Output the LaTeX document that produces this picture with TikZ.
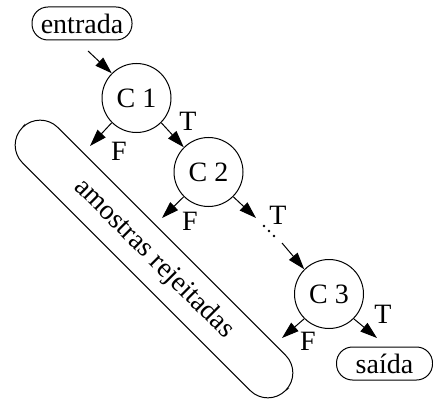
\documentclass[tikz,border=0pt]{standalone}
\usepackage{fontspec}
\setmainfont{Liberation Serif}
\usetikzlibrary{arrows.meta}
\begin{document}
\begin{tikzpicture}[x=1pt,y=-1pt,
  every node/.style={font=\fontsize{28}{33}\selectfont},
  cnode/.style={draw,circle,line width=1pt,minimum size=69pt,inner sep=0pt},
  term/.style={draw,line width=1pt,rounded corners=16pt,minimum height=33pt,inner sep=0pt},
  arr/.style={line width=1pt,-{Triangle[length=17pt,width=11pt]}},
  lab/.style={inner sep=0pt}]
\useasboundingbox (0,0) rectangle (433,406);
\node[term,minimum width=100pt] (in) at (82,23.5) {entrada};
\node[term,minimum width=96pt] (out) at (384.5,363.5) {saída};
\node[cnode] (c1) at (136.5,98) {C 1};
\node[cnode] (c2) at (208.5,172) {C 2};
\node[cnode] (c3) at (329,294) {C 3};
\node[draw,line width=1pt,rounded corners=25pt,minimum width=372pt,minimum height=50pt,rotate=-45] (rej) at (154,259) {amostras rejeitadas};
\coordinate (in0) at (88,51);
\coordinate (f1) at (90,146);
\coordinate (f2) at (162,218);
\coordinate (t2) at (256,218);
\coordinate (d1) at (282,243);
\coordinate (f3) at (282,338);
\coordinate (t3) at (377,338);
\draw[arr] (in0) -- (c1.north west);
\draw[arr] (c1.south west) -- (f1);
\draw[arr] (c1.south east) -- (c2.north west);
\draw[arr] (c2.south west) -- (f2);
\draw[arr] (c2.south east) -- (t2);
\draw[arr] (d1) -- (c3.north west);
\draw[arr] (c3.south west) -- (f3);
\draw[arr] (c3.south east) -- (t3);
\fill (264,226) circle (1.3pt) (269,231) circle (1.3pt) (274,236) circle (1.3pt);
\node[lab] (l1t) at (188,121) {T};
\node[lab] (l1f) at (119,151) {F};
\node[lab] (l2f) at (190,221) {F};
\node[lab] (l2t) at (278,215) {T};
\node[lab] (l3f) at (308,341) {F};
\node[lab] (l3t) at (383,314) {T};
\end{tikzpicture}
\end{document}
